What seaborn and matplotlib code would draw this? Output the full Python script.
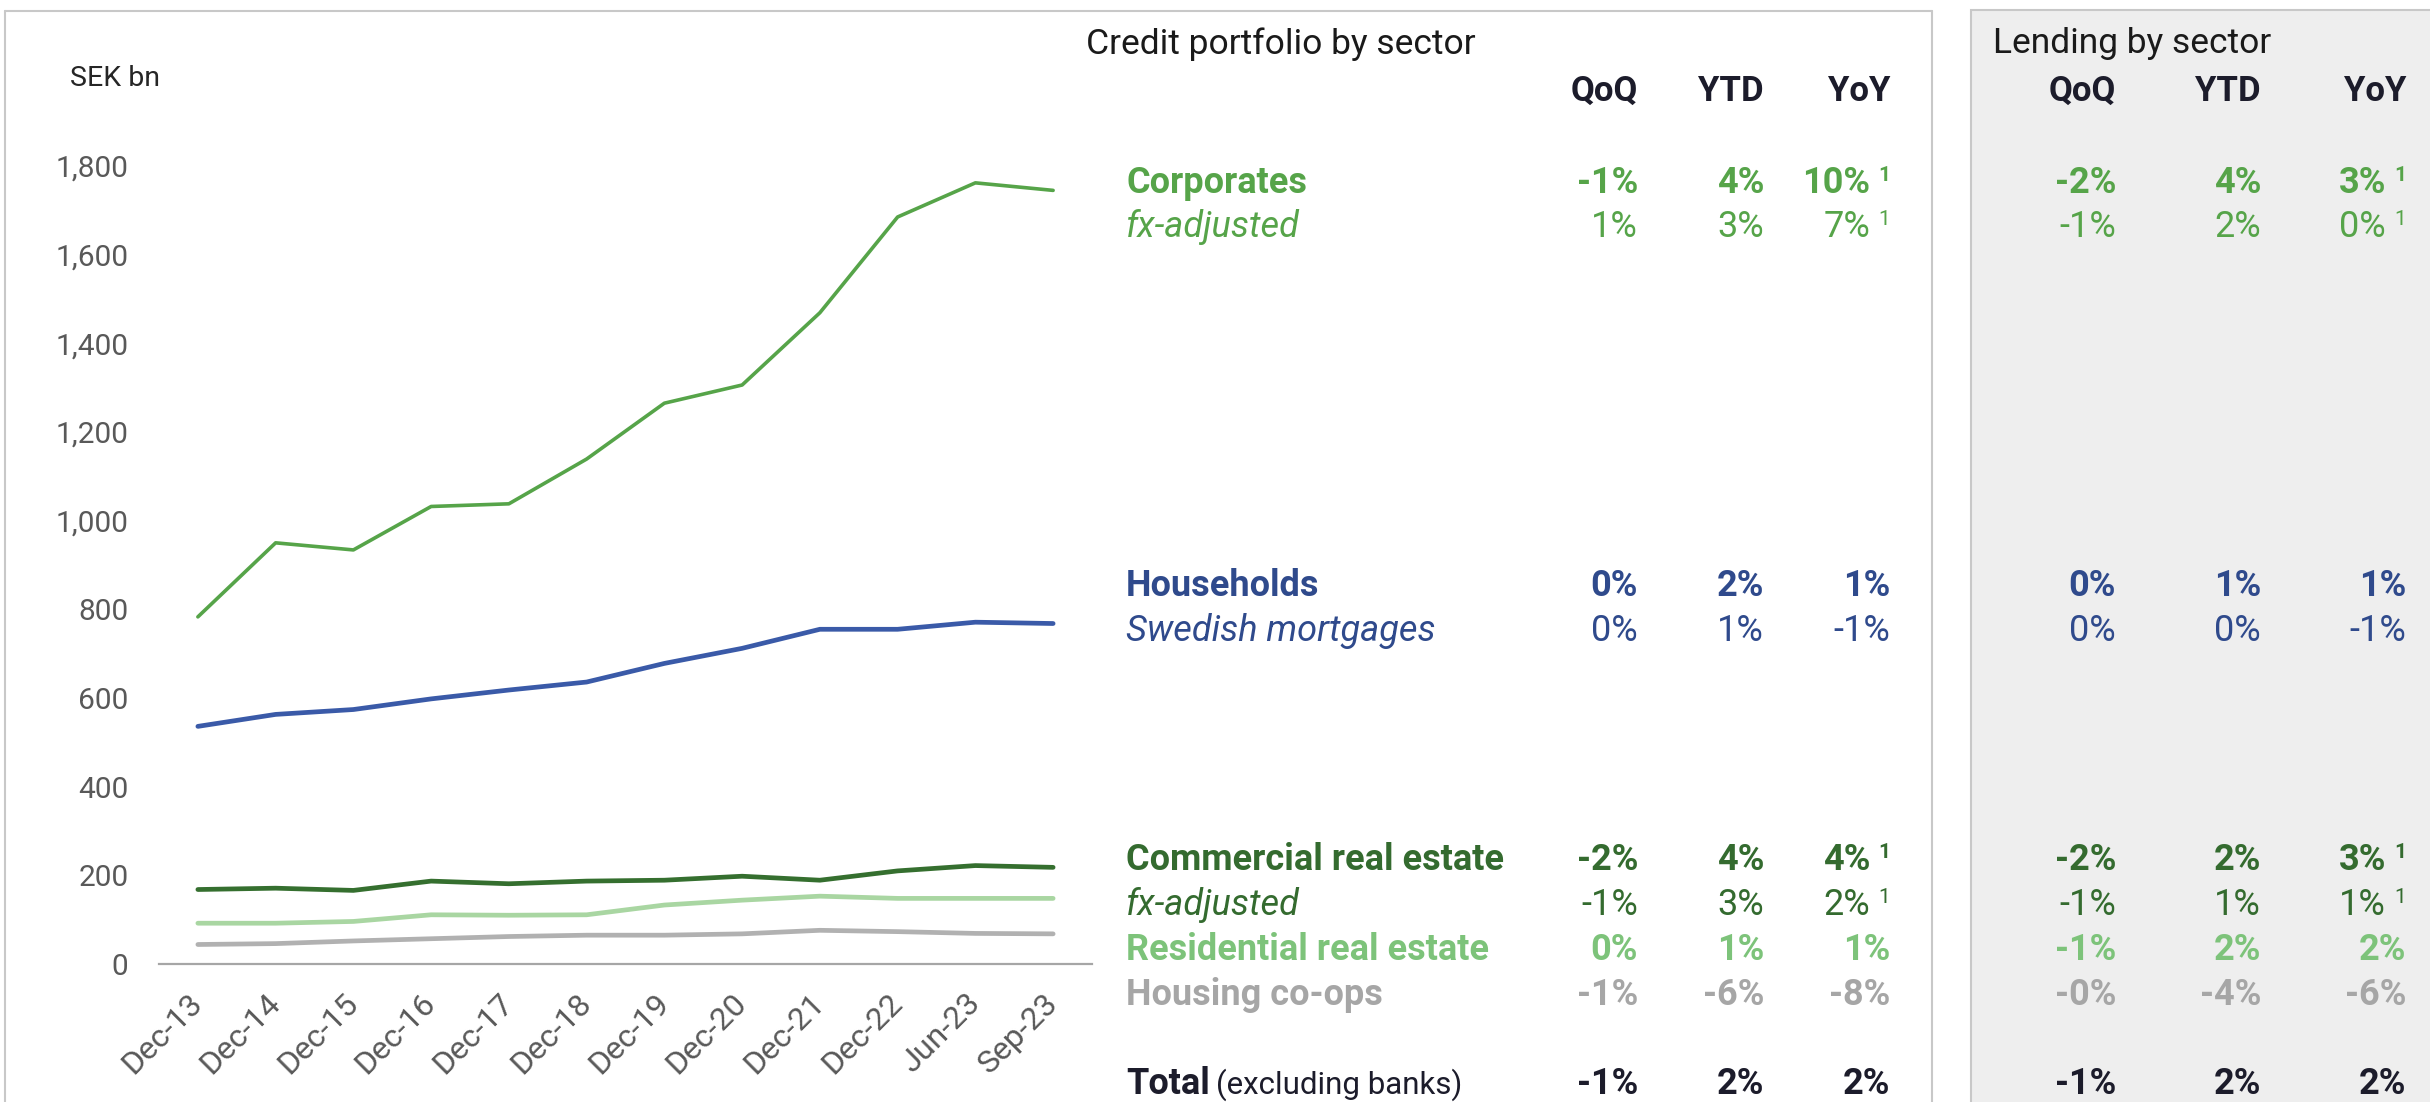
import numpy as np
import pandas as pd
import seaborn as sns
import matplotlib.pyplot as plt
from matplotlib.patches import Rectangle
from matplotlib.lines import Line2D
from matplotlib.ticker import FuncFormatter

# chart data (SEK bn)
quarters = ["Dec-13", "Dec-14", "Dec-15", "Dec-16", "Dec-17", "Dec-18",
            "Dec-19", "Dec-20", "Dec-21", "Dec-22", "Jun-23", "Sep-23"]
corporates = [783, 950, 934, 1032, 1038, 1139, 1265, 1306, 1469, 1685, 1762, 1745]
households = [536, 563, 574, 598, 618, 636, 678, 712, 755, 755, 771, 768]
commercial_re = [168, 171, 166, 187, 181, 187, 189, 198, 189, 210, 222, 218]
residential_re = [92, 92, 96, 111, 110, 111, 133, 144, 153, 148, 148, 148]
housing_coops = [44, 46, 52, 57, 62, 65, 65, 68, 76, 73, 69, 68]

# table data
row_labels = ["Corporates", "fx-adjusted", "Households", "Swedish mortgages",
              "Commercial real estate", "fx-adjusted", "Residential real estate",
              "Housing co-ops", "Total"]
credit_qoq = ["-1%", "1%", "0%", "0%", "-2%", "-1%", "0%", "-1%", "-1%"]
credit_ytd = ["4%", "3%", "2%", "1%", "4%", "3%", "1%", "-6%", "2%"]
credit_yoy = ["10%", "7%", "1%", "-1%", "4%", "2%", "1%", "-8%", "2%"]
lending_qoq = ["-2%", "-1%", "0%", "0%", "-2%", "-1%", "-1%", "-0%", "-1%"]
lending_ytd = ["4%", "2%", "1%", "0%", "2%", "1%", "2%", "-4%", "2%"]
lending_yoy = ["3%", "0%", "1%", "-1%", "3%", "1%", "2%", "-6%", "2%"]
footnote = [1, 1, 0, 0, 1, 1, 0, 0, 0]

# styling
GREEN = "#56a449"
BLUE = "#3a5aa8"
DKGREEN = "#356f2f"
LTGREEN = "#a9d6a2"
GREY = "#b1b1b1"
row_colors = ["#56a449", "#56a449", "#2f4a8c", "#2f4a8c", "#346b2f", "#346b2f",
              "#7dc37a", "#a6a6a6", "#1c1c2b"]
row_bold = [True, False, True, False, True, False, True, True, True]
row_y = [180, 224, 583, 628, 857, 902, 947, 992, 1081]

W, H = 2430, 1102
sns.set_style("white")
plt.rcParams["font.family"] = ["Roboto", "DejaVu Sans"]

fig = plt.figure(figsize=(W / 100, H / 100), dpi=100)


def fx(x):
    return x / W


def fy(y):
    return 1 - y / H


# panel frames
fig.add_artist(Line2D([fx(5), fx(1932)], [fy(11), fy(11)], color="#c8c8c8", lw=1.5))
fig.add_artist(Line2D([fx(5), fx(5)], [fy(11), fy(1110)], color="#c8c8c8", lw=1.5))
fig.add_artist(Line2D([fx(1932), fx(1932)], [fy(11), fy(1110)], color="#c8c8c8", lw=1.5))
fig.add_artist(Rectangle((fx(1971), fy(1110)), fx(480), 1100 / H,
                         facecolor="#eeeeee", edgecolor="#c8c8c8", lw=1.5))

# line chart
ax = fig.add_axes([fx(159), fy(964), fx(1092 - 159), (964 - 166) / H])
ax.set_facecolor("none")
x = np.arange(len(quarters))
series = [(housing_coops, GREY, 3.4), (residential_re, LTGREEN, 3.4),
          (commercial_re, DKGREEN, 3.4), (households, BLUE, 3.4),
          (corporates, GREEN, 2.6)]
for vals, col, lw in series:
    df = pd.DataFrame({"x": x, "v": vals})
    sns.lineplot(data=df, x="x", y="v", color=col, lw=lw, ax=ax, clip_on=False)

ax.set_xlim(-0.5, len(quarters) - 0.5)
ax.set_ylim(0, 1800)
ax.set_yticks(range(0, 1801, 200))
ax.yaxis.set_major_formatter(FuncFormatter(lambda v, p: f"{int(v):,}"))
ax.set_xticks(x)
ax.set_xticklabels(quarters, rotation=45, ha="right", va="center", rotation_mode="anchor")
ax.tick_params(axis="x", length=0, pad=25, labelsize=23, labelcolor="#595959")
ax.tick_params(axis="y", length=0, pad=22, labelsize=21.5, labelcolor="#595959")
ax.set_xlabel("")
ax.set_ylabel("")
for s in ["top", "right", "left"]:
    ax.spines[s].set_visible(False)
ax.spines["bottom"].set_color("#a6a6a6")
ax.spines["bottom"].set_linewidth(1.6)

fig.text(fx(70), fy(78), "SEK bn", fontsize=20.5, color="#262626", va="center")

# titles and headers
fig.text(fx(1086), fy(44), "Credit portfolio by sector", fontsize=25.5, color="#1a1a1a", va="center")
fig.text(fx(1993), fy(44), "Lending by sector", fontsize=25.5, color="#1a1a1a", va="center")
for xr, lab in zip([1638, 1764, 1890, 2116, 2261, 2406], ["QoQ", "YTD", "YoY"] * 2):
    fig.text(fx(xr), fy(101), lab, fontsize=25, fontweight="bold", color="#1c1c2b",
             ha="right", va="baseline")


def cell(xr, y, s, col, bold, sup):
    w = "bold" if bold else "normal"
    if sup:
        fig.text(fx(xr - 20), fy(y), s, fontsize=26, fontweight=w, color=col,
                 ha="right", va="baseline")
        fig.text(fx(xr), fy(y - 12), "1", fontsize=15, fontweight=w, color=col,
                 ha="right", va="baseline")
    else:
        fig.text(fx(xr), fy(y), s, fontsize=26, fontweight=w, color=col,
                 ha="right", va="baseline")


for i, lab in enumerate(row_labels):
    yb = row_y[i] + 13
    col = row_colors[i]
    b = row_bold[i]
    if lab == "Total":
        fig.text(fx(1126), fy(yb), "Total", fontsize=26, fontweight="bold", color=col, va="baseline")
        fig.text(fx(1216), fy(yb), "(excluding banks)", fontsize=22.5, color=col, va="baseline")
    else:
        fig.text(fx(1126), fy(yb), lab, fontsize=26, color=col, va="baseline",
                 fontweight="bold" if b else "normal", style="normal" if b else "italic")
    cell(1638, yb, credit_qoq[i], col, b, 0)
    cell(1764, yb, credit_ytd[i], col, b, 0)
    cell(1890, yb, credit_yoy[i], col, b, footnote[i])
    cell(2116, yb, lending_qoq[i], col, b, 0)
    cell(2261, yb, lending_ytd[i], col, b, 0)
    cell(2406, yb, lending_yoy[i], col, b, footnote[i])

fig.savefig("out.png", dpi=100)
